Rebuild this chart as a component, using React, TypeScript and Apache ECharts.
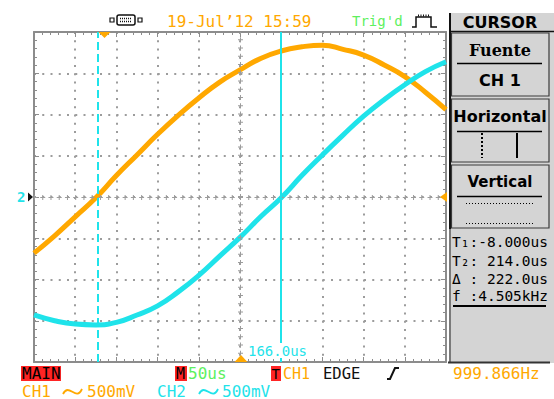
import React, { useEffect, useRef } from "react";
import * as echarts from "echarts";

const TIME_US = [-85, -60, -35, -10, 15, 40, 65, 90, 115, 140, 165, 190, 215, 240, 265, 290, 315, 340, 365, 390, 415];
// CH1 (orange) in volts, 500 mV/div
const CH1_V = [-0.68, -0.47, -0.24, -0.01, 0.26, 0.51, 0.76, 0.99, 1.2, 1.39, 1.54, 1.68, 1.77, 1.82, 1.84, 1.79, 1.72, 1.6, 1.46, 1.27, 1.06];
// CH2 (cyan) in volts, 500 mV/div
const CH2_V = [-1.43, -1.5, -1.54, -1.55, -1.52, -1.43, -1.32, -1.15, -0.95, -0.72, -0.49, -0.24, -0.01, 0.26, 0.51, 0.75, 0.98, 1.18, 1.36, 1.52, 1.64];
// Cursor positions (us)
const CURSOR_T1 = -8;
const CURSOR_T2 = 214;
const CENTER_T = 165;
const READOUTS = ["T\u2081:-8.000us", "T\u2082: 214.0us", "\u0394 : 222.0us", "f :4.505kHz"];

const ORANGE = "#ffa800";
const CYAN = "#1fe3ea";
const GREEN = "#5ef05e";
const RED = "#ff2424";
const GRID_GRAY = "#9c9c9c";
const MONO = '"DejaVu Sans Mono", monospace';
const SANS = '"DejaVu Sans", sans-serif';

function txt(text: string, x: number, y: number, fill: string, font: string, align = "left", z = 10) {
  return {
    type: "text",
    z,
    style: { text, x, y, fill, font, textAlign: align, verticalAlign: "middle" },
  };
}
function ln(x1: number, y1: number, x2: number, y2: number, stroke: string, lineWidth = 1, lineDash?: number[]) {
  return { type: "line", z: 10, shape: { x1, y1, x2, y2 }, style: { stroke, lineWidth, lineDash } };
}

export default function App() {
  const ref = useRef<HTMLDivElement>(null);
  useEffect(() => {
    if (!ref.current) return;
    const chart = echarts.init(ref.current, undefined, { renderer: "svg" });
    const gridAxisCommon = {
      type: "value",
      gridIndex: 0,
      interval: 1,
      axisLabel: { show: false },
      axisLine: { show: true, onZero: false, lineStyle: { color: "#8c8c8c", width: 2 } },
      axisTick: { show: true, inside: true, length: 5, lineStyle: { color: "#8c8c8c", width: 1 } },
      minorTick: { show: true, splitNumber: 5, length: 3, lineStyle: { color: "#8c8c8c", width: 1 } },
    };
    const dotted = { show: true, lineStyle: { color: GRID_GRAY, width: 2, type: [2, 6.25] } };
    const ch1 = TIME_US.map((t, i) => [t, CH1_V[i]]);
    const ch2 = TIME_US.map((t, i) => [t, CH2_V[i]]);

    const graphic: any[] = [
      // connector icon
      { type: "rect", z: 10, shape: { x: 117, y: 15, width: 18, height: 10, r: 2 }, style: { fill: "#fff", stroke: "#111", lineWidth: 1.5 } },
      ln(120, 18.5, 132, 18.5, "#111", 1.5, [1, 1]),
      ln(120, 21.5, 132, 21.5, "#111", 1.5, [1, 1]),
      { type: "rect", z: 10, shape: { x: 110, y: 18, width: 4, height: 4 }, style: { fill: "#fff", stroke: "#111", lineWidth: 1.2 } },
      { type: "rect", z: 10, shape: { x: 138, y: 18, width: 4, height: 4 }, style: { fill: "#fff", stroke: "#111", lineWidth: 1.2 } },
      txt("19-Jul\u201912 15:59", 167, 21, ORANGE, `16px ${MONO}`),
      txt("Trig'd", 352, 21, GREEN, `14px ${MONO}`),
      { type: "polyline", z: 10, shape: { points: [[412, 27], [416, 27], [416, 17], [431, 17], [431, 27], [437, 27]] }, style: { stroke: "#111", lineWidth: 1.5, fill: "none" } },
      ln(418, 15.5, 430, 15.5, "#111", 2, [1, 1.5]),

      // right panel
      { type: "rect", z: 9, shape: { x: 451, y: 13, width: 103, height: 350 }, style: { fill: "#d4d4d4" } },
      { type: "rect", z: 10, shape: { x: 449, y: 13, width: 2, height: 216 }, style: { fill: "#111" } },
      { type: "rect", z: 10, shape: { x: 449, y: 229, width: 2, height: 134 }, style: { fill: "#7a7a7a" } },
      ln(450, 31.5, 554, 31.5, "#111", 1.5),
      txt("CURSOR", 500, 22.5, "#000", `bold 16px ${SANS}`, "center"),
      { type: "rect", z: 10, shape: { x: 451.5, y: 33, width: 97.5, height: 63 }, style: { fill: "none", stroke: "#3a3a3a", lineWidth: 1.2 } },
      { type: "rect", z: 10, shape: { x: 451.5, y: 99, width: 97.5, height: 63 }, style: { fill: "none", stroke: "#3a3a3a", lineWidth: 1.2 } },
      { type: "rect", z: 10, shape: { x: 451.5, y: 165, width: 97.5, height: 63 }, style: { fill: "none", stroke: "#3a3a3a", lineWidth: 1.2 } },
      txt("Fuente", 500, 50, "#000", `bold 16px "DejaVu Serif", serif`, "center"),
      ln(457, 63.5, 542, 63.5, "#000", 1.5),
      txt("CH 1", 500, 80.5, "#000", `bold 16px ${SANS}`, "center"),
      txt("Horizontal", 500, 116, "#000", `bold 16px ${SANS}`, "center"),
      ln(457, 131.5, 542, 131.5, "#000", 1.5),
      ln(482, 133, 482, 158, "#000", 2, [2, 2]),
      ln(517, 133, 517, 158, "#000", 2),
      txt("Vertical", 500, 182, "#000", `bold 15px ${SANS}`, "center"),
      ln(457, 196.5, 542, 196.5, "#000", 1.5),
      ln(466, 203.5, 533, 203.5, "#000", 1, [1, 2]),
      ln(466, 223.5, 533, 223.5, "#000", 1, [1, 2]),
      txt(READOUTS[0], 452, 242, "#000", `14.5px ${MONO}`),
      txt(READOUTS[1], 452, 261, "#000", `14.5px ${MONO}`),
      txt(READOUTS[2], 452, 279, "#000", `14.5px ${MONO}`),
      txt(READOUTS[3], 452, 296, "#000", `14.5px ${MONO}`),
      ln(453, 306, 546, 306, "#000", 2),
      ln(448, 362.5, 550, 362.5, "#333", 2),

      // plot markers
      txt("2", 17, 197, CYAN, `bold 14px ${MONO}`),
      { type: "polygon", z: 10, shape: { points: [[28, 192.5], [28, 201.5], [33, 197]] }, style: { fill: "#111" } },
      { type: "polygon", z: 10, shape: { points: [[98.5, 32], [110.5, 32], [104.5, 38]] }, style: { fill: ORANGE } },
      { type: "polygon", z: 10, shape: { points: [[234.5, 362], [247.5, 362], [241, 355]] }, style: { fill: ORANGE } },
      { type: "polygon", z: 10, shape: { points: [[440, 197], [447, 192], [447, 202]] }, style: { fill: ORANGE } },
      { type: "rect", z: 10, shape: { x: 246, y: 343, width: 62, height: 15 }, style: { fill: "#fff" } },
      txt("166.0us", 248, 350.5, CYAN, `14px ${MONO}`),

      // bottom status
      { type: "rect", z: 10, shape: { x: 21, y: 366, width: 40, height: 15 }, style: { fill: RED } },
      txt("MAIN", 22, 373.5, "#000", `16px ${MONO}`),
      { type: "rect", z: 10, shape: { x: 175, y: 366, width: 12, height: 15 }, style: { fill: RED } },
      txt("M", 176, 373.5, "#000", `15px ${MONO}`),
      txt("50us", 188, 373.5, GREEN, `16px ${MONO}`),
      { type: "rect", z: 10, shape: { x: 271, y: 366, width: 10, height: 15 }, style: { fill: RED } },
      txt("T", 271.5, 373.5, "#000", `14px ${MONO}`),
      txt("CH1", 283, 373.5, ORANGE, `15px ${MONO}`),
      txt("EDGE", 323, 373.5, "#111", `15.5px ${MONO}`),
      { type: "polyline", z: 10, shape: { points: [[387, 379], [390, 379], [395, 368], [399, 368]] }, style: { stroke: "#111", lineWidth: 2, fill: "none" } },
      txt("999.866Hz", 453, 373.5, ORANGE, `16px ${MONO}`),
      txt("CH1", 22, 391, ORANGE, `16px ${MONO}`),
      { type: "bezierCurve", z: 10, shape: { x1: 63, y1: 394, cpx1: 69, cpy1: 382, cpx2: 76, cpy2: 402, x2: 82, y2: 389 }, style: { stroke: ORANGE, lineWidth: 1.8, fill: "none" } },
      txt("500mV", 87, 391, ORANGE, `16px ${MONO}`),
      txt("CH2", 157, 391, CYAN, `16px ${MONO}`),
      { type: "bezierCurve", z: 10, shape: { x1: 199, y1: 394, cpx1: 205, cpy1: 382, cpx2: 212, cpy2: 402, x2: 218, y2: 389 }, style: { stroke: CYAN, lineWidth: 1.8, fill: "none" } },
      txt("500mV", 222, 391, CYAN, `16px ${MONO}`),
    ];

    const option: any = {
      animation: false,
      backgroundColor: "#ffffff",
      grid: { left: 34, top: 32, width: 412, height: 330, show: false },
      xAxis: [
        { type: "value", gridIndex: 0, min: -85, max: 415, show: false },
        { ...gridAxisCommon, min: 0, max: 10, position: "bottom", splitLine: dotted },
        { ...gridAxisCommon, min: 0, max: 10, position: "top", splitLine: { show: false } },
      ],
      yAxis: [
        { type: "value", gridIndex: 0, min: -2, max: 2, show: false },
        { ...gridAxisCommon, min: 0, max: 8, position: "left", splitLine: dotted },
        { ...gridAxisCommon, min: 0, max: 8, position: "right", splitLine: { show: false } },
      ],
      series: [
        {
          type: "line",
          xAxisIndex: 0,
          yAxisIndex: 0,
          data: [],
          z: 1,
          markLine: {
            silent: true,
            symbol: "none",
            label: { show: false },
            animation: false,
            data: [
              { xAxis: CENTER_T, lineStyle: { color: GRID_GRAY, width: 5, type: [1, 7.25] } },
              { xAxis: CENTER_T, lineStyle: { color: GRID_GRAY, width: 1, type: [5, 3.25], dashOffset: 2 } },
              { yAxis: 0, lineStyle: { color: GRID_GRAY, width: 5, type: [1, 7.24] } },
              { yAxis: 0, lineStyle: { color: GRID_GRAY, width: 1, type: [5, 3.24], dashOffset: 2 } },
            ],
          },
        },
        {
          name: "CH1",
          type: "line",
          xAxisIndex: 0,
          yAxisIndex: 0,
          data: ch1,
          smooth: true,
          showSymbol: false,
          z: 3,
          lineStyle: { color: ORANGE, width: 5 },
        },
        {
          name: "CH2",
          type: "line",
          xAxisIndex: 0,
          yAxisIndex: 0,
          data: ch2,
          smooth: true,
          showSymbol: false,
          z: 3,
          lineStyle: { color: CYAN, width: 5 },
          markLine: {
            silent: true,
            symbol: "none",
            label: { show: false },
            animation: false,
            data: [
              { xAxis: CURSOR_T1, lineStyle: { color: CYAN, width: 2, type: [8, 4] } },
              { xAxis: CURSOR_T2, lineStyle: { color: CYAN, width: 2, type: "solid" } },
            ],
          },
        },
      ],
      graphic,
    };
    chart.setOption(option);
    return () => chart.dispose();
  }, []);
  return <div ref={ref} style={{ position: "fixed", left: 0, top: 0, width: 554, height: 399, background: "#fff" }} />;
}
